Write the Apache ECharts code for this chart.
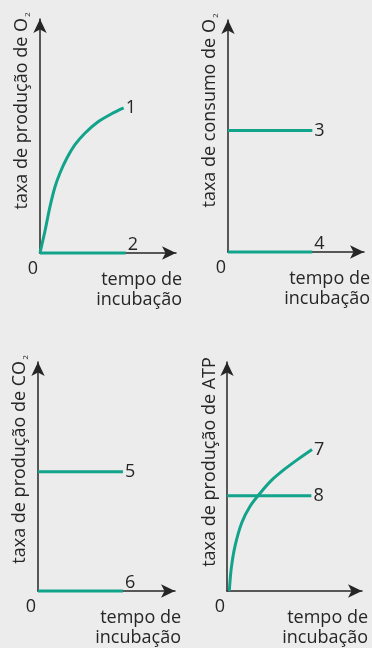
<!DOCTYPE html>
<html>
<head>
<meta charset="utf-8">
<script src="https://cdn.jsdelivr.net/npm/echarts@6/dist/echarts.min.js"></script>
<style>
  html, body { margin: 0; padding: 0; background: #ececec; }
  #chart { width: 372px; height: 648px; }
</style>
</head>
<body>
<div id="chart"></div>
<script>
// 各曲线数据（横轴 0-10, 纵轴 0-10 相对单位）
const curve1 = [[0, 0], [0.37, 0.95], [0.73, 1.97], [1.10, 2.82], [1.47, 3.42], [1.98, 4.06],
    [2.56, 4.62], [3.30, 5.12], [4.25, 5.60], [5.27, 5.95], [6.15, 6.20]];
const line2 = [[0, 0], [6.3, 0]];
const line3 = [[0, 5.24], [6.2, 5.24]];
const line4 = [[0, 0], [6.2, 0]];
const line5 = [[0, 5.21], [6.2, 5.21]];
const line6 = [[0, 0], [6.2, 0]];
const curve7 = [[0.17, 0], [0.32, 1.01], [0.61, 2.0], [1.10, 2.99], [1.71, 3.70], [2.45, 4.27],
    [3.31, 4.84], [4.29, 5.33], [5.27, 5.76], [6.30, 6.18]];
const line8 = [[0, 4.16], [6.25, 4.16]];

const yNames = [
    'taxa de produção de O{sub|2}',
    'taxa de consumo de O{sub|2}',
    'taxa de produção de CO{sub|2}',
    'taxa de produção de ATP'
];
const xName = 'tempo de\nincubação';
const originLabel = '0';

const TEAL = '#12a38b';
const INK = '#262626';
const FONT = 'Open Sans';

const grids = [
    { left: 40, top: 19, width: 136, height: 234 },
    { left: 228, top: 20, width: 136, height: 232 },
    { left: 38, top: 362, width: 137, height: 234 },
    { left: 227, top: 362, width: 135, height: 235 }
];
const namePad = [50, 51, 34, 29];

const chart = echarts.init(document.getElementById('chart'));

const xAxes = grids.map((g, i) => ({
    type: 'value', gridIndex: i, min: 0, max: 10, interval: 10,
    axisLine: { lineStyle: { color: INK, width: 1.5 }, symbol: ['none', 'arrow'], symbolSize: [10, 14] },
    axisTick: { show: false },
    splitLine: { show: false },
    axisLabel: {
        color: INK, fontFamily: FONT, fontSize: 18, margin: 7,
        padding: [0, 14, 0, 0],
        formatter: v => (v === 0 ? originLabel : '')
    },
    name: xName,
    nameLocation: 'end',
    nameGap: 6,
    nameTextStyle: {
        color: INK, fontFamily: FONT, fontSize: 18, lineHeight: 20,
        align: 'right', verticalAlign: 'top', padding: [17, 0, 0, 0]
    }
}));

const yAxes = grids.map((g, i) => ({
    type: 'value', gridIndex: i, min: 0, max: 10,
    axisLine: { lineStyle: { color: INK, width: 1.5 }, symbol: ['none', 'arrow'], symbolSize: [10, 14] },
    axisTick: { show: false },
    splitLine: { show: false },
    axisLabel: { show: false },
    name: yNames[i],
    nameLocation: 'middle',
    nameRotate: 90,
    nameGap: 8,
    nameTextStyle: {
        color: INK, fontFamily: FONT, fontSize: 18,
        padding: [0, 0, 0, namePad[i]],
        rich: { sub: { fontSize: 8, color: INK, fontFamily: FONT, padding: [12, 0, 0, 1] } }
    }
}));

function makeLine(data, idx, label, above, smooth) {
    return {
        type: 'line',
        xAxisIndex: idx, yAxisIndex: idx,
        data: data,
        smooth: smooth ? 0.3 : false,
        showSymbol: false,
        clip: false,
        silent: true,
        lineStyle: { color: TEAL, width: 3 },
        endLabel: {
            show: true,
            formatter: label,
            color: INK, fontFamily: FONT, fontSize: 18,
            distance: 2,
            offset: above ? [0, -8] : [0, 0]
        }
    };
}

chart.setOption({
    backgroundColor: '#ececec',
    animation: false,
    grid: grids,
    xAxis: xAxes,
    yAxis: yAxes,
    series: [
        makeLine(curve1, 0, '1', false, true),
        makeLine(line2, 0, '2', true, false),
        makeLine(line3, 1, '3', false, false),
        makeLine(line4, 1, '4', true, false),
        makeLine(line5, 2, '5', false, false),
        makeLine(line6, 2, '6', true, false),
        makeLine(curve7, 3, '7', false, true),
        makeLine(line8, 3, '8', false, false)
    ]
});
</script>
</body>
</html>
